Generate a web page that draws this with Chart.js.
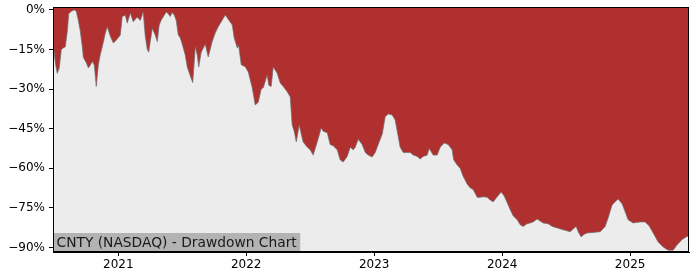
<!DOCTYPE html>
<html lang="en">
<head>
    <meta charset="UTF-8">
    <title>CNTY Drawdown Chart</title>
    <script src="https://cdn.jsdelivr.net/npm/chart.js"></script>
    <style>
        body { margin: 0; padding: 0; background: #fff; }
        #chart { display: block; }
    </style>
</head>
<body>
<canvas id="chart" width="700" height="280"></canvas>
<script>
    // Time of each sample as a fractional year
    const times = [
        2020.492, 2020.508, 2020.523, 2020.539, 2020.555, 2020.570, 2020.586, 2020.602, 2020.613, 2020.633,
        2020.656, 2020.672, 2020.688, 2020.703, 2020.719, 2020.727, 2020.750, 2020.766, 2020.781, 2020.797,
        2020.813, 2020.828, 2020.844, 2020.859, 2020.875, 2020.898, 2020.914, 2020.938, 2020.961, 2020.984,
        2021.000, 2021.016, 2021.031, 2021.055, 2021.070, 2021.094, 2021.117, 2021.148, 2021.172, 2021.195,
        2021.211, 2021.227, 2021.238, 2021.250, 2021.266, 2021.289, 2021.305, 2021.320, 2021.336, 2021.352,
        2021.375, 2021.391, 2021.406, 2021.422, 2021.438, 2021.453, 2021.469, 2021.484, 2021.500, 2021.523,
        2021.539, 2021.563, 2021.582, 2021.602, 2021.617, 2021.629, 2021.648, 2021.680, 2021.703, 2021.734,
        2021.758, 2021.781, 2021.813, 2021.836, 2021.859, 2021.891, 2021.906, 2021.930, 2021.941, 2021.961,
        2021.992, 2022.016, 2022.047, 2022.070, 2022.094, 2022.117, 2022.133, 2022.164, 2022.176, 2022.195,
        2022.211, 2022.242, 2022.266, 2022.289, 2022.320, 2022.344, 2022.359, 2022.375, 2022.391, 2022.414,
        2022.430, 2022.445, 2022.477, 2022.500, 2022.523, 2022.555, 2022.586, 2022.602, 2022.633, 2022.656,
        2022.680, 2022.711, 2022.734, 2022.758, 2022.789, 2022.813, 2022.836, 2022.852, 2022.875, 2022.906,
        2022.930, 2022.953, 2022.984, 2023.008, 2023.031, 2023.063, 2023.086, 2023.109, 2023.141, 2023.164,
        2023.180, 2023.203, 2023.227, 2023.258, 2023.281, 2023.305, 2023.336, 2023.359, 2023.383, 2023.414,
        2023.430, 2023.461, 2023.492, 2023.516, 2023.547, 2023.578, 2023.609, 2023.621, 2023.648, 2023.672,
        2023.695, 2023.727, 2023.750, 2023.773, 2023.805, 2023.828, 2023.852, 2023.883, 2023.906, 2023.930,
        2023.961, 2023.992, 2024.016, 2024.039, 2024.063, 2024.086, 2024.117, 2024.141, 2024.164, 2024.195,
        2024.219, 2024.242, 2024.273, 2024.297, 2024.320, 2024.359, 2024.391, 2024.430, 2024.477, 2024.531,
        2024.555, 2024.578, 2024.594, 2024.617, 2024.641, 2024.664, 2024.711, 2024.766, 2024.805, 2024.828,
        2024.859, 2024.883, 2024.906, 2024.938, 2024.961, 2024.984, 2025.023, 2025.078, 2025.117, 2025.148,
        2025.180, 2025.219, 2025.258, 2025.297, 2025.336, 2025.367, 2025.406, 2025.438, 2025.461
    ];

    // Drawdown from the running peak, in percent
    const drawdown = [
        -13, -20, -24, -22, -15, -14.4, -14, -8, -1.5, -0.5,
        0, -0.5, -4, -8, -14, -18, -20, -22, -21, -19.5,
        -21, -29, -21, -17, -14, -9, -6.4, -10, -12.5, -11.5,
        -10.5, -9.5, -2.5, -2, -5, -1.2, -4.5, -2.7, -4, -0.8,
        -10, -15, -16, -12, -7, -9.5, -12, -5.7, -3.8, -2.6,
        -0.8, -1.5, -2.5, -1, -2, -4, -9.5, -10.5, -13, -17,
        -21.6, -25, -27.5, -14, -17, -21.6, -16, -13, -17.8, -12,
        -8.7, -6.4, -3.8, -1.9, -3.5, -5.7, -10.6, -14.4, -13.5, -20.8,
        -21.5, -23.5, -29.5, -36, -35, -30, -29.5, -24.6, -28.5, -29,
        -21.6, -24, -27.7, -29, -31, -33, -43.6, -46, -50, -43.6,
        -47, -50, -52, -53, -55, -50, -44.7, -46, -46.5, -51,
        -51.5, -53, -56.8, -57.6, -55.5, -52, -53, -52, -49, -51,
        -54, -55, -55.7, -54, -51, -47, -40.5, -39.4, -39.8, -41.7,
        -46, -52, -54, -54, -54, -55, -55.5, -56.5, -55.5, -55,
        -52.5, -55, -55, -52, -50.4, -51, -53, -56.8, -58.7, -60,
        -63, -66, -67.4, -68, -71, -71, -70.8, -71, -72, -72.7,
        -70.8, -69, -70.5, -73, -75.7, -78, -79.5, -81.4, -82, -81,
        -80.7, -80.3, -79.2, -80, -80.7, -81, -82, -82.6, -83.3, -84,
        -83, -82, -84, -86, -85, -84.5, -84.3, -84, -82, -78.8,
        -73.9, -72.7, -71.6, -73.5, -76.5, -79.5, -80.7, -80.3, -80.3, -81.8,
        -84.5, -87.9, -89.8, -91, -91, -89, -87, -86, -85.5
    ];

    const yearTicks = [2021, 2022, 2023, 2024, 2025];
    const pctTicks = [0, -15, -30, -45, -60, -75, -90];
    const chartLabel = 'CNTY (NASDAQ) - Drawdown Chart';

    const points = times.map((t, i) => ({ x: t, y: drawdown[i] }));

    // Grey plot background, black frame and the label box
    const framePlugin = {
        id: 'frame',
        beforeDraw(chart) {
            const { ctx, chartArea: a } = chart;
            ctx.save();
            ctx.fillStyle = '#ececec';
            ctx.fillRect(a.left, a.top, a.right - a.left, a.bottom - a.top);
            ctx.restore();
        },
        afterDraw(chart) {
            const { ctx, chartArea: a } = chart;
            ctx.save();
            ctx.font = '13.8px "DejaVu Sans"';
            const w = ctx.measureText(chartLabel).width;
            ctx.fillStyle = '#b3b3b3';
            ctx.fillRect(a.left + 1, a.bottom - 19, w + 6, 18);
            ctx.fillStyle = '#1a1a1a';
            ctx.textBaseline = 'alphabetic';
            ctx.fillText(chartLabel, a.left + 3.5, a.bottom - 5);
            ctx.strokeStyle = '#000';
            ctx.lineWidth = 1;
            ctx.strokeRect(Math.round(a.left) + 0.5, Math.round(a.top) + 0.5,
                Math.round(a.right - a.left) - 1, Math.round(a.bottom - a.top) - 1);
            ctx.restore();
        }
    };

    new Chart(document.getElementById('chart').getContext('2d'), {
        type: 'line',
        data: {
            datasets: [{
                data: points,
                fill: 'end',
                backgroundColor: '#b03030',
                borderColor: 'rgba(110, 110, 110, 0.7)',
                borderWidth: 1,
                pointRadius: 0,
                tension: 0
            }]
        },
        options: {
            responsive: false,
            animation: false,
            layout: { padding: { top: 7, right: 11, left: 0, bottom: 0 } },
            plugins: {
                legend: { display: false },
                tooltip: { enabled: false }
            },
            scales: {
                x: {
                    type: 'linear',
                    min: 2020.49,
                    max: 2025.46,
                    afterBuildTicks: scale => { scale.ticks = yearTicks.map(v => ({ value: v })); },
                    afterFit: scale => {
                        scale.height = 28;
                        scale.paddingLeft = 0;
                        scale.paddingRight = 0;
                    },
                    grid: { drawOnChartArea: false, tickLength: 4, color: '#000' },
                    border: { display: true, color: '#000', width: 1 },
                    ticks: {
                        autoSkip: false,
                        maxRotation: 0,
                        padding: 2,
                        color: '#000',
                        font: { family: 'DejaVu Sans', size: 12 },
                        callback: v => String(v)
                    }
                },
                y: {
                    min: -91.7,
                    max: 1.1,
                    afterBuildTicks: scale => { scale.ticks = pctTicks.map(v => ({ value: v })); },
                    afterFit: scale => {
                        scale.width = 53;
                        scale.paddingTop = 0;
                        scale.paddingBottom = 0;
                    },
                    grid: { drawOnChartArea: false, tickLength: 4, color: '#000' },
                    border: { display: true, color: '#000', width: 1 },
                    ticks: {
                        autoSkip: false,
                        padding: 4,
                        color: '#000',
                        font: { family: 'DejaVu Sans', size: 12 },
                        callback: v => (v === 0 ? '0%' : '\u2212' + Math.abs(v) + '%')
                    }
                }
            }
        },
        plugins: [framePlugin]
    });
</script>
</body>
</html>
